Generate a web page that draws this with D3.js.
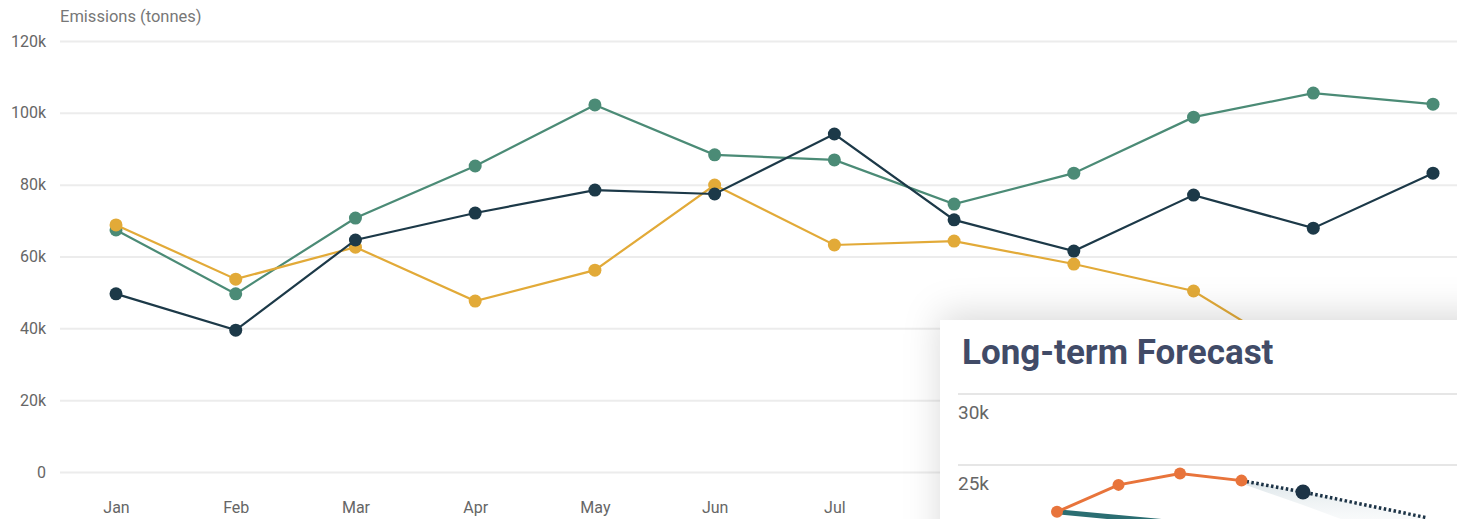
<!DOCTYPE html>
<html>
<head>
    <script type="text/javascript" src="https://d3js.org/d3.v7.min.js"></script>
    <style>
        body { margin: 0; background: #fff; font-family: Roboto, Arial, sans-serif; overflow: hidden; }
    </style>
</head>
<body>
    <div id="chart"></div>
    <script>
        var width = 1457;
        var height = 519;

        // main chart data (thousand tonnes)
        var months = ["Jan", "Feb", "Mar", "Apr", "May", "Jun", "Jul", "Aug", "Sep", "Oct", "Nov", "Dec"];
        var greenValues = [67.4, 49.6, 70.7, 85.2, 102.2, 88.3, 86.9, 74.6, 83.2, 98.8, 105.5, 102.4];
        var navyValues = [49.6, 39.5, 64.6, 72.1, 78.5, 77.4, 94.1, 70.2, 61.5, 77.1, 67.9, 83.2];
        var yellowValues = [68.8, 53.7, 62.6, 47.6, 56.2, 79.9, 63.2, 64.3, 57.9, 50.4, 30.0, 26.0];
        var yTicks = [0, 20, 40, 60, 80, 100, 120];

        // inset forecast data (thousand tonnes)
        var insetSteps = [0, 1, 2, 3, 4, 5, 6];
        var actualValues = [21.7, 23.6, 24.4, 23.9];
        var forecastValues = [23.9, 23.1, 22.2, 21.3];
        var trendValues = [21.7, 21.3, 20.9];
        var insetTicks = [25, 30];

        var svg = d3.select("#chart").append("svg")
            .attr("width", width)
            .attr("height", height);

        var defs = svg.append("defs");
        var shadow = defs.append("filter").attr("id", "shadow")
            .attr("x", "-20%").attr("y", "-40%").attr("width", "140%").attr("height", "180%");
        shadow.append("feDropShadow").attr("dx", 0).attr("dy", -6)
            .attr("stdDeviation", 18).attr("flood-color", "#000").attr("flood-opacity", 0.15);

        var band = defs.append("linearGradient").attr("id", "band")
            .attr("x1", 0).attr("y1", 0).attr("x2", 0).attr("y2", 1);
        band.append("stop").attr("offset", "0%").attr("stop-color", "#cfdbe0").attr("stop-opacity", 0.7);
        band.append("stop").attr("offset", "100%").attr("stop-color", "#ffffff").attr("stop-opacity", 0);

        // main chart
        var x = d3.scalePoint().domain(months).range([116, 1433]);
        var y = d3.scaleLinear().domain([0, 120]).range([472, 41]);

        svg.append("text")
            .attr("x", 60).attr("y", 22)
            .attr("font-size", 16.5).attr("fill", "#777")
            .text("Emissions (tonnes)");

        var yAxis = svg.append("g")
            .attr("transform", "translate(60,0)")
            .call(d3.axisLeft(y).tickValues(yTicks).tickSize(-1400)
                .tickFormat(function (d) { return d === 0 ? "0" : d + "k"; }));
        yAxis.select(".domain").remove();
        yAxis.selectAll("line").attr("stroke", "#ececec").attr("stroke-width", 2);
        yAxis.selectAll("text").attr("x", -14).attr("font-size", 16)
            .attr("fill", "#666").attr("font-family", "Roboto, Arial, sans-serif");

        var xAxis = svg.append("g")
            .attr("transform", "translate(0,499)")
            .call(d3.axisBottom(x).tickSize(0));
        xAxis.select(".domain").remove();
        xAxis.selectAll("text").attr("font-size", 16)
            .attr("fill", "#666").attr("font-family", "Roboto, Arial, sans-serif");

        var series = [
            { values: greenValues, color: "#4b8b76" },
            { values: yellowValues, color: "#e2aa38" },
            { values: navyValues, color: "#1c3948" }
        ];
        var line = d3.line()
            .x(function (d, i) { return x(months[i]); })
            .y(function (d) { return y(d); });

        series.forEach(function (s) {
            svg.append("path").datum(s.values)
                .attr("d", line).attr("fill", "none")
                .attr("stroke", s.color).attr("stroke-width", 2.2);
            svg.selectAll(null).data(s.values).enter().append("circle")
                .attr("cx", function (d, i) { return x(months[i]); })
                .attr("cy", function (d) { return y(d); })
                .attr("r", 6.5).attr("fill", s.color);
        });

        // inset card
        var card = svg.append("g");
        card.append("rect")
            .attr("x", 940).attr("y", 320)
            .attr("width", 560).attr("height", 260)
            .attr("fill", "#fff").attr("filter", "url(#shadow)");

        card.append("text")
            .attr("x", 962).attr("y", 364)
            .attr("font-size", 35).attr("font-weight", 700)
            .attr("fill", "#414b67")
            .text("Long-term Forecast");

        var ix = d3.scaleLinear().domain([0, 6]).range([1057, 1426]);
        var iy = d3.scaleLinear().domain([20, 30]).range([536, 394]);

        insetTicks.forEach(function (t) {
            card.append("line")
                .attr("x1", 958).attr("x2", width)
                .attr("y1", iy(t)).attr("y2", iy(t))
                .attr("stroke", "#e6e6e6").attr("stroke-width", 2);
            card.append("text")
                .attr("x", 958).attr("y", iy(t) + 25)
                .attr("font-size", 19).attr("fill", "#666")
                .text(t + "k");
        });

        var fSteps = [insetSteps[3], insetSteps[4], insetSteps[5], insetSteps[6]];

        // light band under the forecast
        var area = d3.area()
            .x(function (d, i) { return ix(fSteps[i]); })
            .y0(function (d, i) { return iy(d) + 3 + i * 10; })
            .y1(function (d) { return iy(d); });
        card.append("path").datum(forecastValues)
            .attr("d", area).attr("fill", "url(#band)");

        var trendLine = d3.line()
            .x(function (d, i) { return ix(insetSteps[i]); })
            .y(function (d) { return iy(d); });
        card.append("path").datum(trendValues)
            .attr("d", trendLine).attr("fill", "none")
            .attr("stroke", "#2b6e72").attr("stroke-width", 5);

        var forecastLine = d3.line()
            .x(function (d, i) { return ix(fSteps[i]); })
            .y(function (d) { return iy(d); });
        card.append("path").datum(forecastValues)
            .attr("d", forecastLine).attr("fill", "none")
            .attr("stroke", "#1c3346").attr("stroke-width", 3.5)
            .attr("stroke-dasharray", "2.5,2.5");
        card.selectAll(null).data(forecastValues.slice(1, 2)).enter().append("circle")
            .attr("cx", function (d, i) { return ix(fSteps[i + 1]); })
            .attr("cy", function (d) { return iy(d); })
            .attr("r", 7.5)
            .attr("fill", "#1c3346");

        var actualLine = d3.line()
            .x(function (d, i) { return ix(insetSteps[i]); })
            .y(function (d) { return iy(d); });
        card.append("path").datum(actualValues)
            .attr("d", actualLine).attr("fill", "none")
            .attr("stroke", "#e8743b").attr("stroke-width", 3);
        card.selectAll(null).data(actualValues).enter().append("circle")
            .attr("cx", function (d, i) { return ix(insetSteps[i]); })
            .attr("cy", function (d) { return iy(d); })
            .attr("r", 6).attr("fill", "#e8743b");
    </script>
</body>
</html>
